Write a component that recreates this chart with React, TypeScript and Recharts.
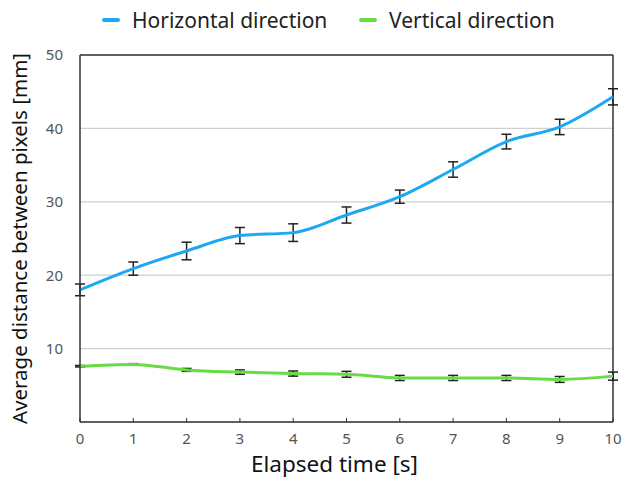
import React from "react";
import { CartesianGrid, ErrorBar, Legend, Line, LineChart, ReferenceLine, XAxis, YAxis } from "recharts";

const times = [0, 1, 2, 3, 4, 5, 6, 7, 8, 9, 10];
const horizontal = [18.0, 20.9, 23.3, 25.4, 25.8, 28.2, 30.7, 34.4, 38.2, 40.2, 44.3];
const horizontalErr = [0.8, 0.9, 1.2, 1.1, 1.2, 1.1, 0.9, 1.05, 1.0, 1.05, 1.1];
const vertical = [7.6, 7.85, 7.1, 6.8, 6.6, 6.5, 6.0, 6.0, 6.0, 5.8, 6.25];
const verticalErr = [0.1, 0.1, 0.2, 0.3, 0.35, 0.4, 0.35, 0.35, 0.35, 0.4, 0.55];
const yTicks = [10, 20, 30, 40, 50];

const FONT = '"Noto Sans", sans-serif';
const BLUE = "#1ea8f4";
const GREEN = "#68dc44";

const data = times.map((t, i) => ({
  t,
  h: horizontal[i],
  hErr: horizontalErr[i],
  v: vertical[i],
  vErr: verticalErr[i]
}));

const legendPos = [102, 359];

function LegendContent({ payload }: { payload?: any[] }) {
  return (
    <div style={{ position: "relative", width: 622, height: 55, fontFamily: FONT }}>
      {(payload ?? []).map((entry, i) => (
        <div
          key={entry.value}
          style={{ position: "absolute", left: legendPos[i], top: 6, height: 28, display: "flex", alignItems: "center" }}
        >
          <span style={{ display: "inline-block", width: 18, height: 4, borderRadius: 2, background: entry.color }} />
          <span style={{ marginLeft: 12, fontSize: 21, color: "#222", whiteSpace: "nowrap" }}>{entry.value}</span>
        </div>
      ))}
    </div>
  );
}

export default function App() {
  return (
    <div style={{ position: "absolute", left: 0, top: 0, width: 622, height: 479, background: "#fff" }}>
      <LineChart width={622} height={479} data={data} margin={{ top: 0, right: 9, bottom: 0, left: 0 }}>
        <Legend verticalAlign="top" content={<LegendContent />} wrapperStyle={{ left: 0, top: 0, width: 622 }} />
        <CartesianGrid vertical={false} stroke="#cfcfcf" strokeWidth={1.2} />
        <XAxis
          dataKey="t"
          type="number"
          domain={[0, 10]}
          ticks={times}
          height={57}
          tickSize={-4}
          tickMargin={15}
          axisLine={{ stroke: "#333", strokeWidth: 1.5 }}
          tickLine={{ stroke: "#333" }}
          tick={{ fill: "#555", fontSize: 15, fontFamily: FONT }}
          label={{ value: "Elapsed time [s]", position: "insideBottom", offset: 7, dx: -12, fill: "#111", fontSize: 22.5, fontFamily: FONT }}
        />
        <YAxis
          type="number"
          domain={[0, 50]}
          ticks={yTicks}
          width={80}
          tickSize={0}
          tickMargin={17}
          tickLine={false}
          axisLine={{ stroke: "#333", strokeWidth: 1.5 }}
          tick={{ fill: "#555", fontSize: 15, fontFamily: FONT }}
          label={{
            value: "Average distance between pixels [mm]",
            angle: -90,
            position: "insideLeft",
            offset: 20,
            fill: "#111",
            fontSize: 20.5,
            fontFamily: FONT,
            style: { textAnchor: "middle" }
          }}
        />
        <ReferenceLine y={50} stroke="#333" strokeWidth={1.5} />
        <ReferenceLine x={10} stroke="#333" strokeWidth={1.5} />
        <Line
          name="Horizontal direction"
          type="monotone"
          dataKey="h"
          stroke={BLUE}
          strokeWidth={3}
          dot={false}
          isAnimationActive={false}
        >
          <ErrorBar dataKey="hErr" width={5} stroke="#222" strokeWidth={1.5} isAnimationActive={false} />
        </Line>
        <Line
          name="Vertical direction"
          type="monotone"
          dataKey="v"
          stroke={GREEN}
          strokeWidth={3}
          dot={false}
          isAnimationActive={false}
        >
          <ErrorBar dataKey="vErr" width={5} stroke="#222" strokeWidth={1.5} isAnimationActive={false} />
        </Line>
      </LineChart>
    </div>
  );
}
